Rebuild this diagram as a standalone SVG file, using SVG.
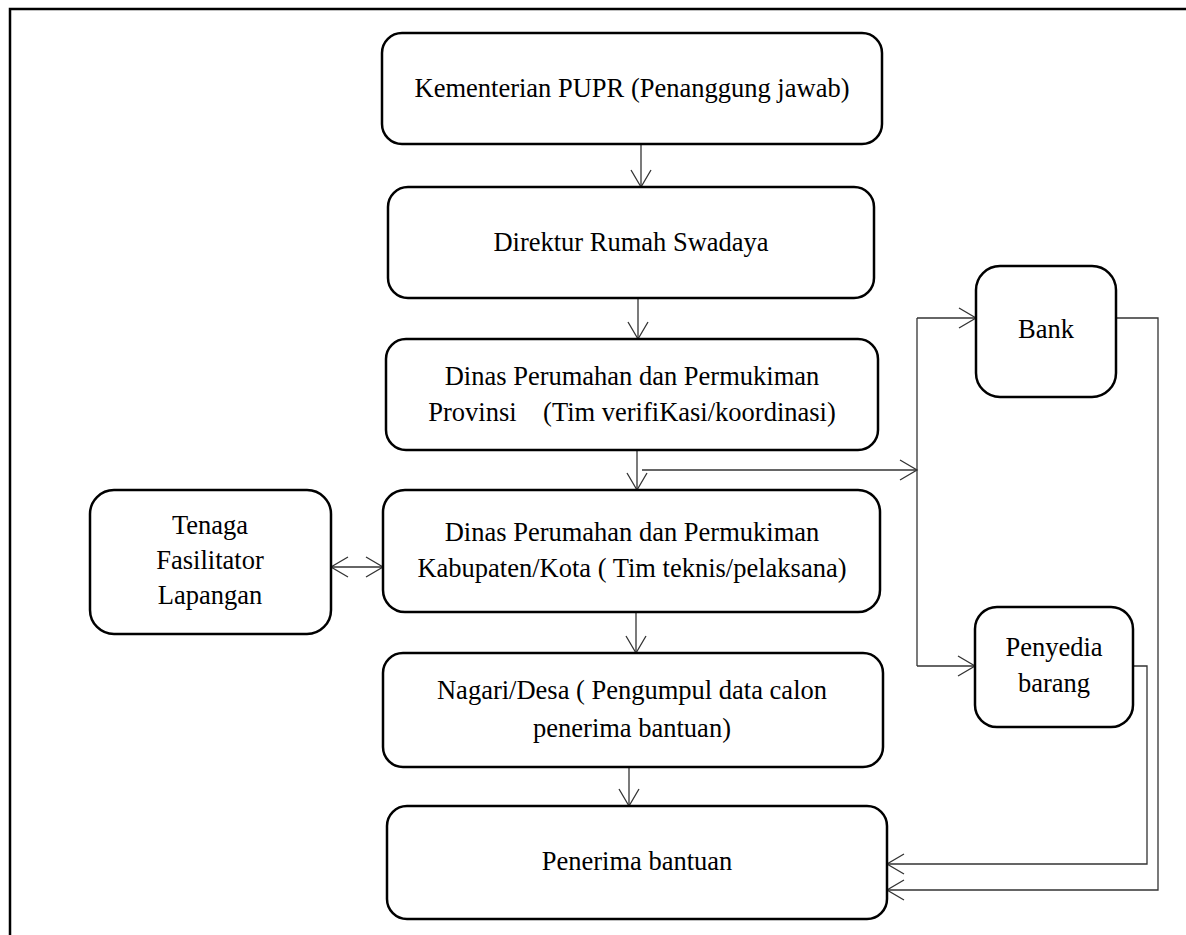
<svg xmlns="http://www.w3.org/2000/svg" width="1186" height="935" viewBox="0 0 1186 935">
  <style>
    .box { fill: #ffffff; stroke: #000000; stroke-width: 2.5; }
    .lbl { font-family: "Liberation Serif", "Times New Roman", serif; font-size: 26.5px; fill: #000000; text-anchor: middle; }
    .con { fill: none; stroke: #333333; stroke-width: 1.3; }
    .frame { fill: none; stroke: #000000; stroke-width: 2.5; }
  </style>
  <defs>
    <marker id="arr" markerUnits="userSpaceOnUse" markerWidth="20" markerHeight="24" viewBox="-18 -12 20 24" refX="0" refY="0" orient="auto-start-reverse">
      <path d="M-17,-10 L0,0 L-17,10" fill="none" stroke="#333333" stroke-width="1.3"/>
    </marker>
  </defs>
  <rect x="0" y="0" width="1186" height="935" fill="#ffffff"/>
  <rect class="frame" x="10" y="9" width="1300" height="1100"/>

  <g id="connectors">
    <line class="con" x1="641" y1="145" x2="641" y2="187" marker-end="url(#arr)"/>
    <line class="con" x1="638" y1="298" x2="638" y2="339" marker-end="url(#arr)"/>
    <line class="con" x1="637" y1="450" x2="637" y2="490" marker-end="url(#arr)"/>
    <line class="con" x1="642" y1="470" x2="917" y2="470" marker-end="url(#arr)"/>
    <line class="con" x1="917" y1="318" x2="917" y2="666"/>
    <line class="con" x1="917" y1="318" x2="976" y2="318" marker-end="url(#arr)"/>
    <line class="con" x1="917" y1="666" x2="975" y2="666" marker-end="url(#arr)"/>
    <line class="con" x1="331" y1="567" x2="383" y2="567" marker-start="url(#arr)" marker-end="url(#arr)"/>
    <line class="con" x1="636" y1="612" x2="636" y2="653" marker-end="url(#arr)"/>
    <line class="con" x1="629" y1="767" x2="629" y2="806" marker-end="url(#arr)"/>
    <polyline class="con" points="1116,318 1158,318 1158,890 887,890" marker-end="url(#arr)"/>
    <polyline class="con" points="1133,666 1147,666 1147,864 887,864" marker-end="url(#arr)"/>
  </g>

  <g id="node-kementerian">
    <rect class="box" x="382" y="33" width="500" height="111" rx="20"/>
    <text class="lbl" x="632" y="97">Kementerian PUPR (Penanggung jawab)</text>
  </g>
  <g id="node-direktur">
    <rect class="box" x="388" y="187" width="486" height="111" rx="20"/>
    <text class="lbl" x="631" y="251">Direktur Rumah Swadaya</text>
  </g>
  <g id="node-provinsi">
    <rect class="box" x="386" y="339" width="492" height="111" rx="20"/>
    <text class="lbl" x="632" y="385">Dinas Perumahan dan Permukiman</text>
    <text class="lbl" x="632" y="421" xml:space="preserve">Provinsi    (Tim verifiKasi/koordinasi)</text>
  </g>
  <g id="node-kabupaten">
    <rect class="box" x="383" y="490" width="497" height="122" rx="22"/>
    <text class="lbl" x="632" y="541">Dinas Perumahan dan Permukiman</text>
    <text class="lbl" x="632" y="577">Kabupaten/Kota ( Tim teknis/pelaksana)</text>
  </g>
  <g id="node-tenaga">
    <rect class="box" x="90" y="490" width="241" height="144" rx="24"/>
    <text class="lbl" x="210" y="534">Tenaga</text>
    <text class="lbl" x="210" y="569">Fasilitator</text>
    <text class="lbl" x="210" y="604">Lapangan</text>
  </g>
  <g id="node-nagari">
    <rect class="box" x="383" y="653" width="500" height="114" rx="20"/>
    <text class="lbl" x="632" y="699">Nagari/Desa ( Pengumpul data calon</text>
    <text class="lbl" x="632" y="737">penerima bantuan)</text>
  </g>
  <g id="node-penerima">
    <rect class="box" x="387" y="806" width="500" height="113" rx="20"/>
    <text class="lbl" x="637" y="870">Penerima bantuan</text>
  </g>
  <g id="node-bank">
    <rect class="box" x="976" y="266" width="140" height="131" rx="24"/>
    <text class="lbl" x="1046" y="338">Bank</text>
  </g>
  <g id="node-penyedia">
    <rect class="box" x="975" y="607" width="158" height="120" rx="22"/>
    <text class="lbl" x="1054" y="656">Penyedia</text>
    <text class="lbl" x="1054" y="692">barang</text>
  </g>
</svg>
